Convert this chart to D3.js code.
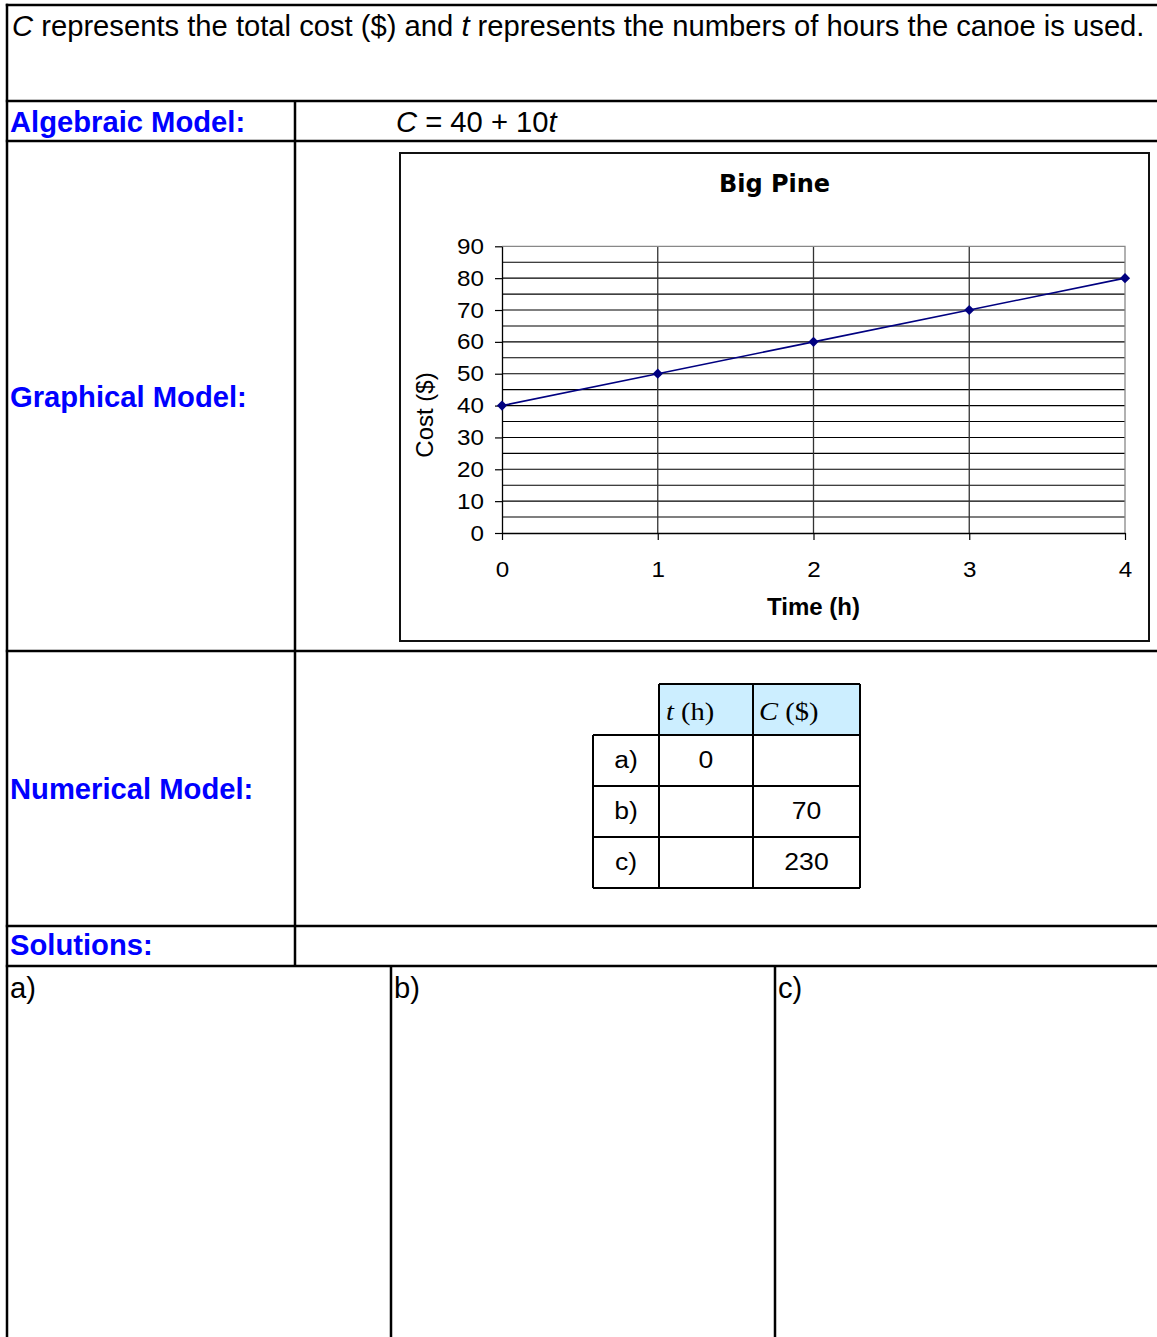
<!DOCTYPE html>
<html>
<head>
<meta charset="utf-8">
<script src="https://cdn.jsdelivr.net/npm/d3@7"></script>
<style>
  html, body { margin: 0; padding: 0; background: #fff; }
  svg { display: block; }
</style>
</head>
<body>
<div id="chart"></div>
<script>
// ---- data ----
const chartTitle = "Big Pine";
const xAxisTitle = "Time (h)";
const yAxisTitle = "Cost ($)";
const hours = [0, 1, 2, 3, 4];
const costs = [40, 50, 60, 70, 80];
const yTickValues = [0, 10, 20, 30, 40, 50, 60, 70, 80, 90];
const yGridValues = [0, 5, 10, 15, 20, 25, 30, 35, 40, 45, 50, 55, 60, 65, 70, 75, 80, 85, 90];
const xTickValues = [0, 1, 2, 3, 4];
const rowLabels = ["a)", "b)", "c)"];
const tColumn = ["0", "", ""];
const cColumn = ["", "70", "230"];
const sectionLabels = ["Algebraic Model:", "Graphical Model:", "Numerical Model:", "Solutions:"];
const solutionLabels = ["a)", "b)", "c)"];

const W = 1157, H = 1337;
const SANS = "'Liberation Sans', Arial, Helvetica, sans-serif";
const VERD = "'DejaVu Sans', Verdana, sans-serif";
const SERIF = "'Liberation Serif', 'Times New Roman', serif";
const BLUE = "#0000ff";
const DOC_FS = 29.2;
const SX = 1.1;

const svg = d3.select("#chart").append("svg")
  .attr("width", W).attr("height", H)
  .attr("viewBox", `0 0 ${W} ${H}`);
svg.append("rect").attr("width", W).attr("height", H).attr("fill", "#fff");

// ---- document grid lines ----
const doc = svg.append("g").attr("stroke", "#000").attr("stroke-width", 2.5);
[5, 101, 141, 651, 926, 966].forEach(y => {
  doc.append("line").attr("x1", 5.8).attr("x2", W).attr("y1", y).attr("y2", y);
});
doc.append("line").attr("x1", 7).attr("x2", 7).attr("y1", 3.8).attr("y2", H);
doc.append("line").attr("x1", 295).attr("x2", 295).attr("y1", 101).attr("y2", 966);
[391, 775].forEach(x => {
  doc.append("line").attr("x1", x).attr("x2", x).attr("y1", 966).attr("y2", H);
});

// ---- document text ----
const t0 = svg.append("text").attr("x", 12).attr("y", 36)
  .attr("font-family", SANS).attr("font-size", DOC_FS).attr("fill", "#000");
t0.append("tspan").attr("font-style", "italic").text("C");
t0.append("tspan").text(" represents the total cost ($) and ");
t0.append("tspan").attr("font-style", "italic").text("t");
t0.append("tspan").text(" represents the numbers of hours the canoe is used.");

const secY = [131.5, 407, 799, 955];
sectionLabels.forEach((s, i) => {
  svg.append("text").attr("x", 10).attr("y", secY[i])
    .attr("font-family", SANS).attr("font-size", DOC_FS).attr("font-weight", "bold")
    .attr("fill", BLUE).text(s);
});

const eq = svg.append("text").attr("x", 396).attr("y", 132)
  .attr("font-family", SANS).attr("font-size", DOC_FS).attr("fill", "#000");
eq.append("tspan").attr("font-style", "italic").text("C");
eq.append("tspan").text(" = 40 + 10");
eq.append("tspan").attr("font-style", "italic").text("t");

const solX = [10, 394, 778];
solutionLabels.forEach((s, i) => {
  svg.append("text").attr("x", solX[i]).attr("y", 998)
    .attr("font-family", SANS).attr("font-size", DOC_FS).attr("fill", "#000").text(s);
});

// ---- chart ----
svg.append("rect").attr("x", 400).attr("y", 153).attr("width", 749).attr("height", 488)
  .attr("fill", "#fff").attr("stroke", "#111").attr("stroke-width", 2);

const x = d3.scaleLinear().domain([0, 4]).range([502, 1125]);
const y = d3.scaleLinear().domain([0, 90]).range([533, 246.3]);

const plot = svg.append("g");
plot.selectAll("line.hg").data(yGridValues.filter(v => v > 0 && v < 90)).join("line")
  .attr("class", "hg")
  .attr("x1", x(0)).attr("x2", x(4))
  .attr("y1", d => y(d)).attr("y2", d => y(d))
  .attr("stroke", "#000").attr("stroke-width", 1.1);
plot.selectAll("line.vg").data(xTickValues.filter(v => v > 0 && v < 4)).join("line")
  .attr("class", "vg")
  .attr("x1", d => x(d)).attr("x2", d => x(d))
  .attr("y1", y(90)).attr("y2", y(0))
  .attr("stroke", "#333").attr("stroke-width", 1.3);
plot.append("path")
  .attr("d", `M${x(0)},${y(90)}H${x(4)}V${y(0)}`)
  .attr("fill", "none").attr("stroke", "#888").attr("stroke-width", 1.3);

// axes
const yAxis = d3.axisLeft(y).tickValues(yTickValues).tickSize(7).tickSizeOuter(0);
const gy = svg.append("g").attr("transform", `translate(${x(0)},0)`).call(yAxis);
gy.select(".domain").attr("stroke", "#000").attr("stroke-width", 1.3);
gy.selectAll(".tick line").attr("stroke", "#000").attr("stroke-width", 1.2);
gy.selectAll(".tick text")
  .attr("x", null)
  .attr("transform", `translate(-18,0) scale(${SX},1)`)
  .attr("font-family", SANS).attr("font-size", 22).attr("fill", "#000");

const xAxis = d3.axisBottom(x).tickValues(xTickValues).tickSize(7).tickSizeOuter(0)
  .tickFormat(d3.format("d"));
const gx = svg.append("g").attr("transform", `translate(0,${y(0)})`).call(xAxis);
gx.select(".domain").attr("stroke", "#000").attr("stroke-width", 1.3);
gx.selectAll(".tick line").attr("stroke", "#000").attr("stroke-width", 1.2);
gx.selectAll(".tick text")
  .attr("y", null)
  .attr("transform", `translate(0,28.5) scale(${SX},1)`)
  .attr("font-family", SANS).attr("font-size", 22).attr("fill", "#000");

// titles
svg.append("text").attr("x", 774.5).attr("y", 192)
  .attr("font-family", VERD).attr("font-size", 24).attr("font-weight", "bold")
  .attr("text-anchor", "middle").attr("fill", "#000").text(chartTitle);
svg.append("text").attr("x", (x(0) + x(4)) / 2).attr("y", 615)
  .attr("font-family", SANS).attr("font-size", 24).attr("font-weight", "bold")
  .attr("text-anchor", "middle").attr("fill", "#000").text(xAxisTitle);
svg.append("text")
  .attr("transform", `translate(433,415) rotate(-90)`)
  .attr("font-family", SANS).attr("font-size", 24).attr("text-anchor", "middle")
  .attr("fill", "#000").text(yAxisTitle);

// series line + markers
const pts = hours.map((h, i) => [h, costs[i]]);
svg.append("path").datum(pts)
  .attr("d", d3.line().x(d => x(d[0])).y(d => y(d[1])))
  .attr("fill", "none").attr("stroke", "#000080").attr("stroke-width", 1.6);
svg.selectAll("path.mk").data(pts).join("path")
  .attr("class", "mk")
  .attr("d", d3.symbol(d3.symbolSquare, 52)())
  .attr("transform", d => `translate(${x(d[0])},${y(d[1])}) rotate(45)`)
  .attr("fill", "#000080");

// ---- numerical table ----
const tbl = svg.append("g");
const colX = [593, 659, 753, 860];
const headY = 684, rowH = 51;
const rowTop = i => 735 + i * rowH;
tbl.append("rect").attr("x", colX[1]).attr("y", headY).attr("width", colX[3] - colX[1]).attr("height", rowTop(0) - headY)
  .attr("fill", "#cceeff");
const tl = tbl.append("g").attr("stroke", "#000").attr("stroke-width", 2);
tl.append("line").attr("x1", colX[1]).attr("x2", colX[3]).attr("y1", headY).attr("y2", headY);
[0, 1, 2, 3].forEach(i => {
  tl.append("line").attr("x1", colX[0]).attr("x2", colX[3]).attr("y1", rowTop(i)).attr("y2", rowTop(i));
});
tl.append("line").attr("x1", colX[0]).attr("x2", colX[0]).attr("y1", rowTop(0)).attr("y2", rowTop(3));
[1, 2, 3].forEach(c => {
  tl.append("line").attr("x1", colX[c]).attr("x2", colX[c]).attr("y1", headY).attr("y2", rowTop(3));
});
function headText(px, italicPart, rest) {
  const t = tbl.append("text")
    .attr("transform", `translate(${px},719.5) scale(1.12,1)`)
    .attr("font-family", SERIF).attr("font-size", 25.5).attr("fill", "#000");
  t.append("tspan").attr("font-style", "italic").text(italicPart);
  t.append("tspan").text(rest);
}
headText(666, "t", " (h)");
headText(759, "C", " ($)");
function cellText(px, py, str) {
  tbl.append("text")
    .attr("transform", `translate(${px},${py}) scale(1.13,1)`)
    .attr("font-family", SANS).attr("font-size", 23.5).attr("text-anchor", "middle")
    .attr("fill", "#000").text(str);
}
rowLabels.forEach((lab, i) => {
  const by = rowTop(i) + 32.5;
  cellText((colX[0] + colX[1]) / 2, by, lab);
  if (tColumn[i]) cellText((colX[1] + colX[2]) / 2, by, tColumn[i]);
  if (cColumn[i]) cellText((colX[2] + colX[3]) / 2, by, cColumn[i]);
});
</script>
</body>
</html>
